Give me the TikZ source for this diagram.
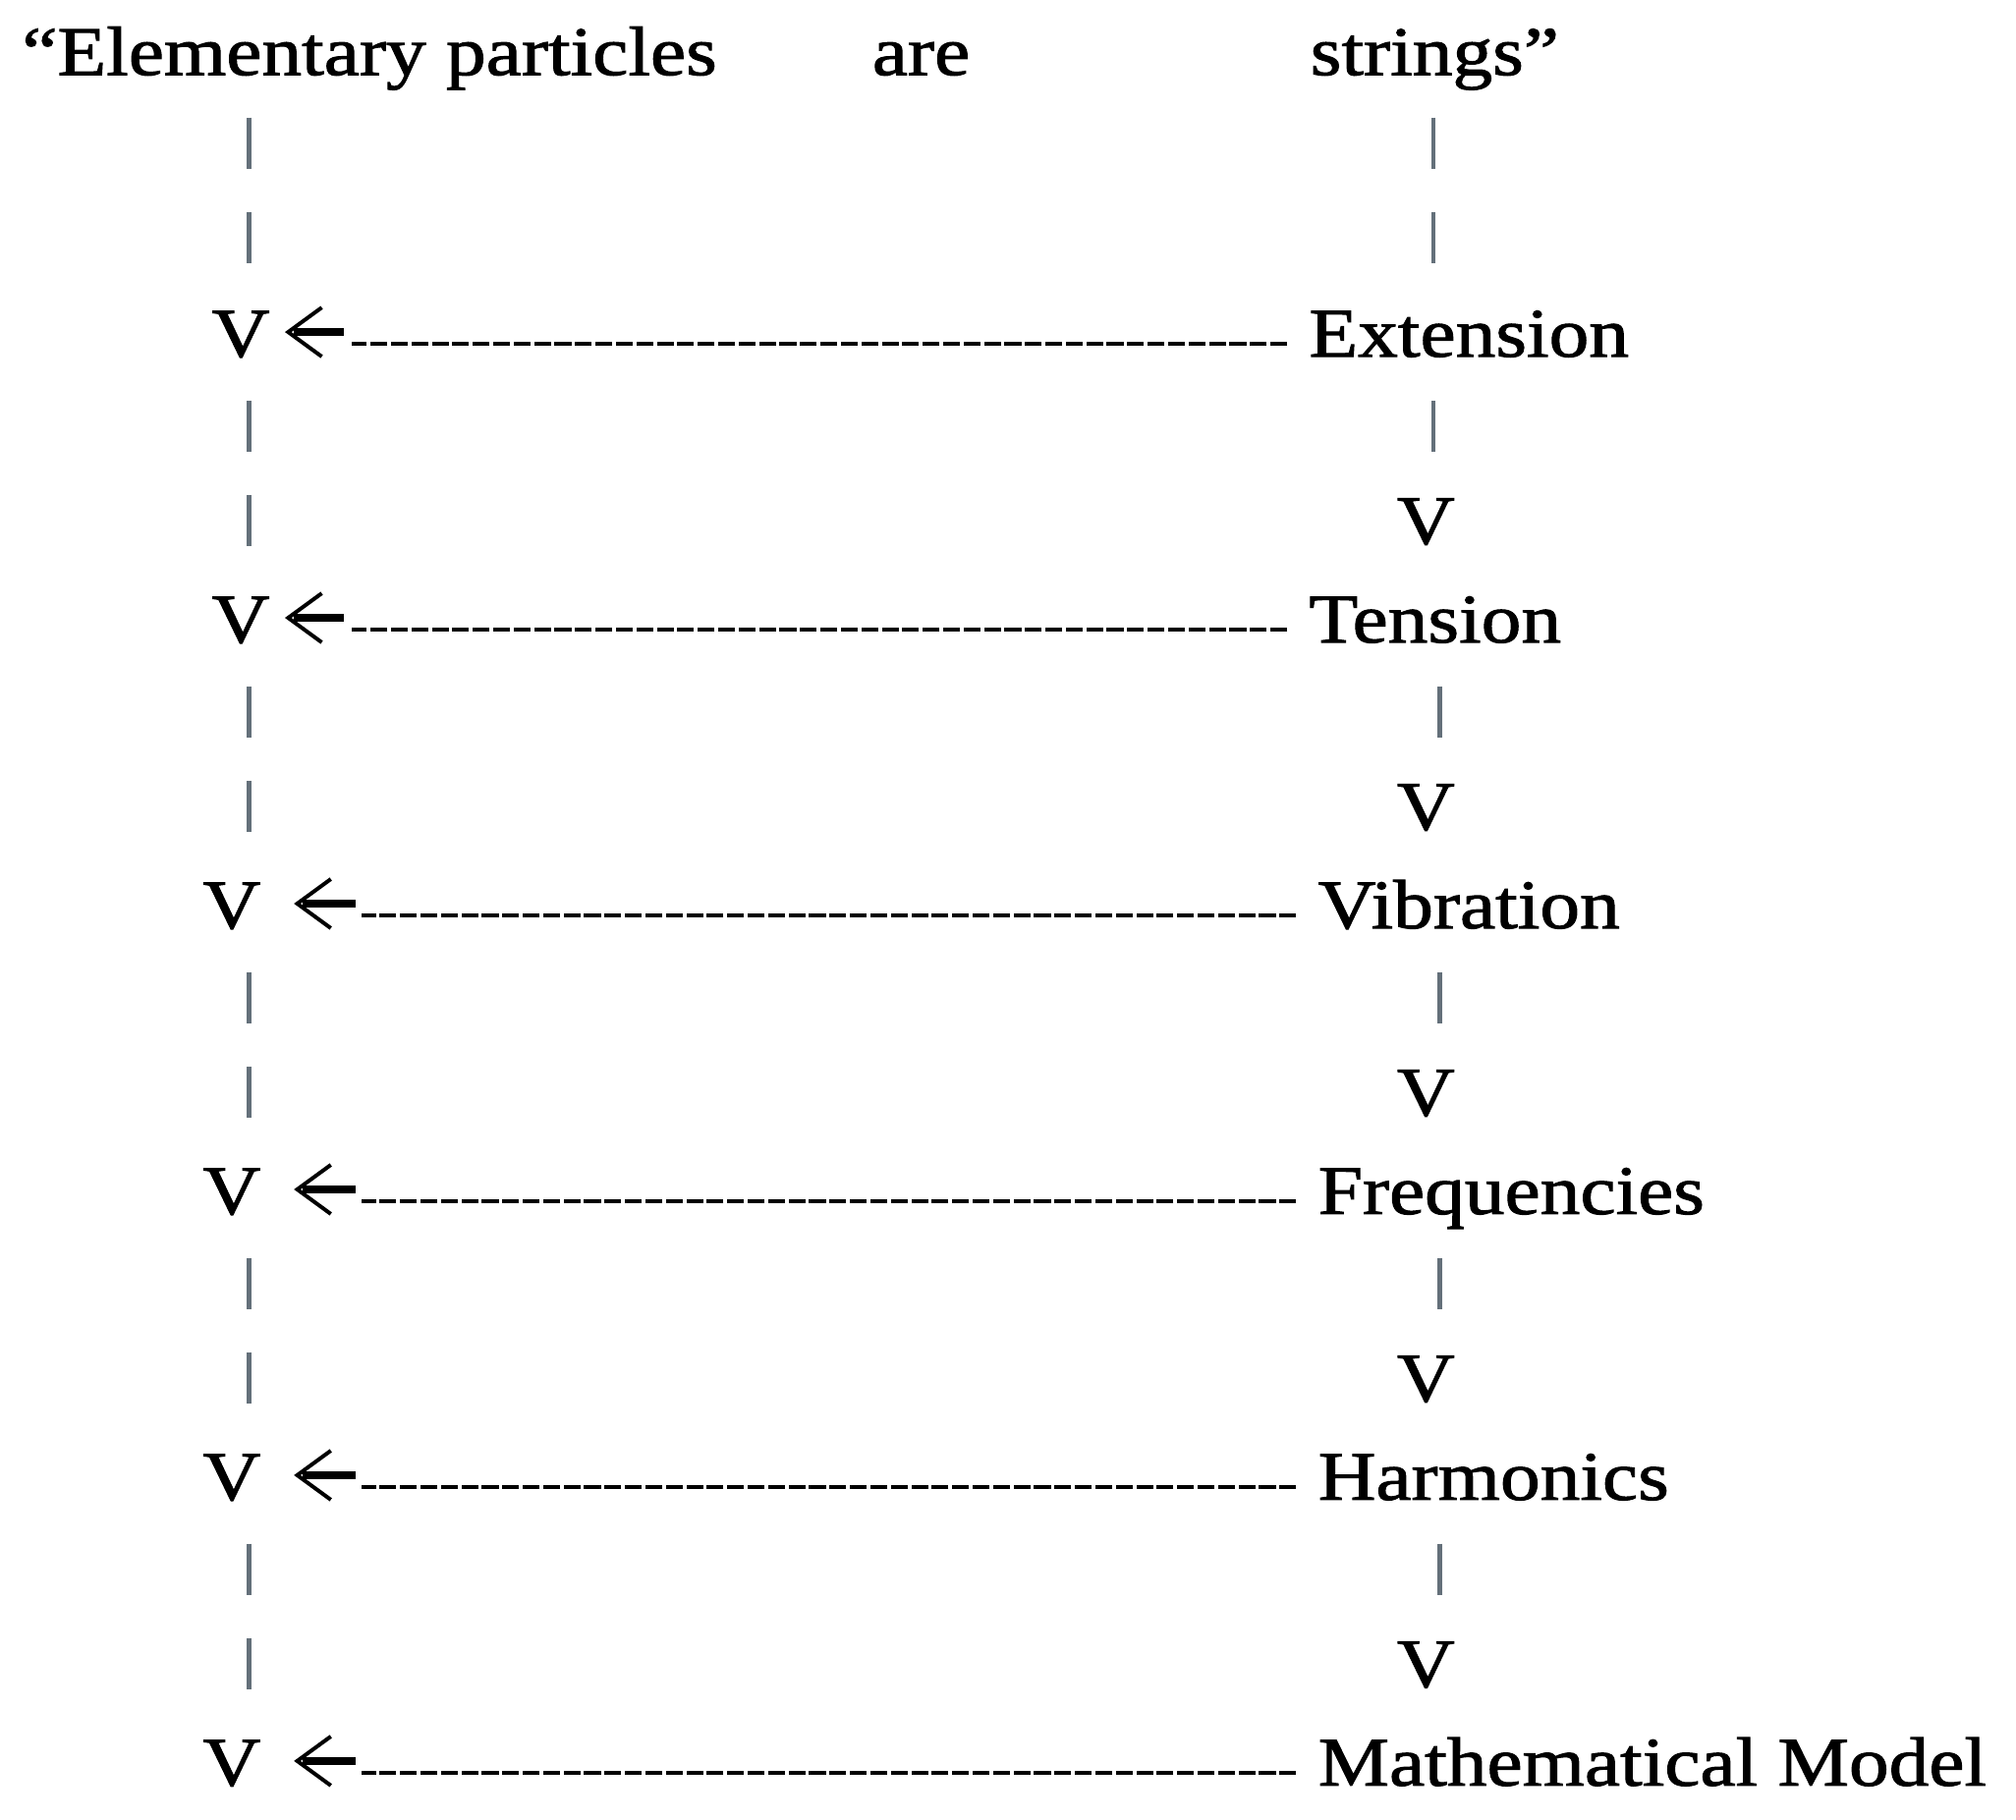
\documentclass[tikz,border=0pt]{standalone}
\usepackage{fontspec}
\setmainfont{Liberation Serif}[FakeStretch=1.15,FakeBold=1.4]
\definecolor{segcol}{RGB}{100,112,122}
\begin{document}
\begin{tikzpicture}[x=0.01cm,y=-0.01cm,
  txt/.style={anchor=base west,inner sep=0pt,outer sep=0pt,font=\fontsize{15.3}{18}\selectfont},
  seg/.style={draw=segcol,line width=0.95pt},
  dashln/.style={draw=black,line width=0.8pt,dash pattern=on 3.7pt off 0.8pt},
  shaft/.style={draw=black,line width=1.7pt},
  barb/.style={draw=black,line width=0.85pt,line join=miter}]
\useasboundingbox (0,0) rectangle (1560,1408.7);
% title
\node[txt] (t1) at (17,58) {“Elementary particles};
\node[txt] (t2) at (675,58) {are};
\node[txt] (t3) at (1014,58) {strings”};
% rows
\foreach \n/\b/\vx/\tip/\se/\ds/\de/\tx/\lab in {
  ext/276/164/223/266/272/996/1013/Extension,
  ten/497.2/164/223/266/272/996/1013/Tension,
  vib/718.4/157/230/275/280/1003/1020/Vibration,
  fre/939.6/157/230/275/280/1003/1020/Frequencies,
  har/1160.8/157/230/275/280/1003/1020/Harmonics,
  mat/1382/157/230/275/280/1003/1020/Mathematical Model}{
  \node[txt] (v\n) at (\vx,\b) {V};
  \node[txt] (\n) at (\tx,\b) {\lab};
  \coordinate (dr\n) at (\de,{\b-10});
  \coordinate (dl\n) at (\ds,{\b-10});
  \coordinate (se\n) at (\se,{\b-19});
  \coordinate (ss\n) at ({\tip+4},{\b-19});
  \coordinate (tp\n) at (\tip,{\b-19});
  \coordinate (bu\n) at ({\tip+26},{\b-38});
  \coordinate (bd\n) at ({\tip+26},{\b});
  \draw[dashln] (dr\n) -- (dl\n);
  \draw[shaft] (se\n) -- (ss\n);
  \draw[barb] (bu\n) -- (tp\n) -- (bd\n);
}
% left vertical segments
\foreach \b in {57,276,497.2,718.4,939.6,1160.8}{
  \draw[seg] (192.6,{\b+34}) -- (192.6,{\b+74});
  \draw[seg] (192.6,{\b+107}) -- (192.6,{\b+147});
}
% right vertical segments under title
\draw[seg] (1109,91) -- (1109,131);
\draw[seg] (1109,164) -- (1109,204);
% right column: segment then V
\foreach \b/\sx in {276/1109,497.2/1114,718.4/1114,939.6/1114,1160.8/1114}{
  \draw[seg] (\sx,{\b+34}) -- (\sx,{\b+74});
  \node[txt] at (1081,{\b+145}) {V};
}
\end{tikzpicture}
\end{document}
